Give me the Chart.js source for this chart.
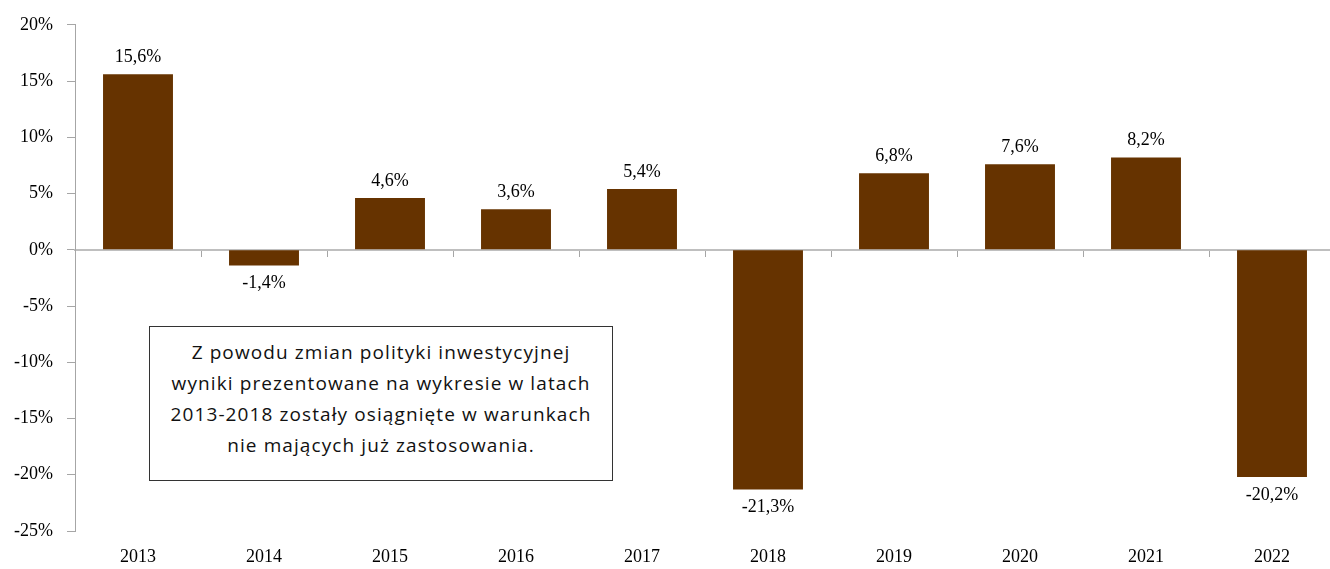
<!DOCTYPE html>
<html>
<head>
<meta charset="utf-8">
<script src="https://cdn.jsdelivr.net/npm/chart.js@4.4.0/dist/chart.umd.min.js"></script>
<style>
  html, body { margin: 0; padding: 0; background: #fff; overflow: hidden; }
  #wrap { position: relative; width: 1340px; height: 569px; }
  #note {
    position: absolute;
    left: 149px;
    top: 326px;
    width: 464px;
    height: 155px;
    box-sizing: border-box;
    border: 1px solid #333;
    background: #fff;
    font-family: "Open Sans", Lato, sans-serif;
    font-size: 19px;
    letter-spacing: 1.1px;
    line-height: 31px;
    text-align: center;
    color: #111;
    padding-top: 10px;
  }
</style>
</head>
<body>
<div id="wrap">
  <canvas id="chart" width="1340" height="569"></canvas>
  <div id="note">Z powodu zmian polityki inwestycyjnej<br>wyniki prezentowane na wykresie w latach<br>2013-2018 zostały osiągnięte w warunkach<br>nie mających już zastosowania.</div>
</div>
<script>
const years = ["2013", "2014", "2015", "2016", "2017", "2018", "2019", "2020", "2021", "2022"];
const returns = [15.6, -1.4, 4.6, 3.6, 5.4, -21.3, 6.8, 7.6, 8.2, -20.2];
const yMin = -25;
const yMax = 20;
const yStep = 5;

const serif = '"Liberation Serif", "DejaVu Serif", serif';
const axisGray = "#a6a6a6";

// value labels above positive bars, below negative ones
const valueLabels = {
  id: "valueLabels",
  afterDatasetsDraw(chart) {
    const ctx = chart.ctx;
    const meta = chart.getDatasetMeta(0);
    ctx.save();
    ctx.font = "18px " + serif;
    ctx.fillStyle = "#000";
    ctx.textAlign = "center";
    ctx.textBaseline = "middle";
    meta.data.forEach((bar, i) => {
      const v = returns[i];
      const txt = v.toFixed(1).replace(".", ",") + "%";
      const y = v >= 0 ? bar.y - 17 : bar.y + 18;
      ctx.fillText(txt, bar.x, y);
    });
    ctx.restore();
  },
};

new Chart(document.getElementById("chart"), {
  type: "bar",
  data: {
    labels: years,
    datasets: [
      {
        data: returns,
        backgroundColor: "#663300",
        borderWidth: 0,
        barPercentage: 0.555,
        categoryPercentage: 1,
      },
    ],
  },
  options: {
    responsive: false,
    animation: false,
    layout: { padding: { top: 23, right: 5, bottom: 1, left: 0 } },
    plugins: {
      legend: { display: false },
      tooltip: { enabled: false },
    },
    scales: {
      x: {
        type: "category",
        position: { y: 0 },
        offset: true,
        grid: {
          offset: true,
          drawOnChartArea: false,
          drawTicks: true,
          tickLength: 6,
          color: axisGray,
        },
        border: { color: "#bfbfbf", width: 2 },
        ticks: { display: false },
        afterFit: (scale) => {
          scale.height = 0;
        },
      },
      x2: {
        type: "category",
        labels: years,
        position: "bottom",
        offset: true,
        grid: { display: false, drawTicks: false },
        border: { display: false },
        ticks: {
          padding: 15,
          color: "#000",
          font: { family: serif, size: 18 },
          maxRotation: 0,
        },
        afterFit: (scale) => {
          scale.height = 37;
        },
      },
      y: {
        position: "left",
        min: yMin,
        max: yMax,
        ticks: {
          stepSize: yStep,
          padding: 14,
          color: "#000",
          font: { family: serif, size: 18 },
          callback: (v) => v + "%",
        },
        grid: {
          drawOnChartArea: false,
          drawTicks: true,
          tickLength: 8,
          color: axisGray,
        },
        border: { color: axisGray, width: 1 },
        afterFit: (scale) => {
          scale.width = 75;
        },
      },
    },
  },
  plugins: [valueLabels],
});
</script>
</body>
</html>
